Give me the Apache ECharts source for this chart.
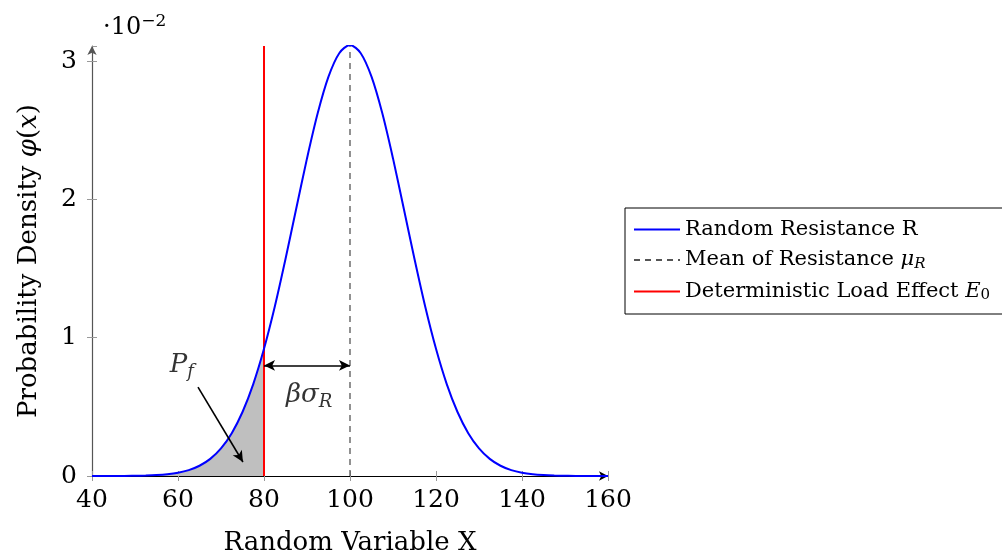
<!DOCTYPE html>
<html><head><meta charset="utf-8">
<script src="https://cdn.jsdelivr.net/npm/echarts@6/dist/echarts.min.js"></script>
<style>html,body{margin:0;padding:0;background:#fff}#c{width:1002px;height:555px}</style>
</head><body><div id="c"></div>
<script>
// x positions of curve readings
const xs = [40,42.5,45,47.5,50,52.5,55,57.5,60,62.5,65,67.5,70,72.5,75,77.5,80,82.5,85,87.5,90,92.5,95,97.5,100,
            102.5,105,107.5,110,112.5,115,117.5,120,122.5,125,127.5,130,132.5,135,137.5,140,142.5,145,147.5,150,152.5,155,157.5,160];
// density readings in units of 1e-2
const density = [0.000,0.000,0.000,0.000,0.0015,0.0032,0.0065,0.0126,0.0236,0.0427,0.0742,0.124,0.200,0.310,0.463,0.665,0.920,1.224,1.569,1.935,2.297,2.625,2.888,3.058,3.117,
            3.058,2.888,2.625,2.297,1.935,1.569,1.224,0.920,0.665,0.463,0.310,0.200,0.124,0.0742,0.0427,0.0236,0.0126,0.0065,0.0032,0.0015,0.000,0.000,0.000,0.000];
const meanR = 100;
const loadE0 = 80;
const peak = 3.117;
const yTop = 3.11;
const xTicks = [40,60,80,100,120,140,160];
const yTicks = [0,1,2,3];
const arrowY = 0.8;
const pfArrow = [[64.65,0.643],[75.1,0.101]];
const pfLabel = [60.9,0.80];
const bsLabel = [90.5,0.585];

const curve = xs.map((x,i)=>[x,density[i]]);
const shade = curve.filter(p=>p[0]<=loadE0);
const FF = 'DejaVu Serif';
const chart = echarts.init(document.getElementById('c'));
const axBase = {min:40,max:160,interval:20};
chart.setOption({
  animation:false,
  title:{text:'·10{sup|−2}',left:98,top:8,textStyle:{fontFamily:FF,fontSize:24,fontWeight:'normal',color:'#000',
     rich:{sup:{fontFamily:FF,fontSize:17,verticalAlign:'top',padding:[0,0,12,0],color:'#000'}}}},
  grid:{left:92,right:394,top:46,bottom:79,outerBoundsMode:'none',containLabel:false},
  legend:{orient:'vertical',left:625,top:208,padding:[11,20,11,8],itemGap:9.5,itemWidth:46,itemHeight:14,
    borderColor:'#000',borderWidth:1,itemStyle:{opacity:0},
    data:['Random Resistance R','Mean of Resistance','Deterministic Load Effect'],
    formatter:function(n){
      if(n==='Mean of Resistance') return 'Mean of Resistance {i|μ}{s|R}';
      if(n==='Deterministic Load Effect') return 'Deterministic Load Effect {i|E}{s0|0}';
      return n;},
    textStyle:{fontFamily:FF,fontSize:21,color:'#000',
      rich:{i:{fontFamily:FF,fontSize:21,fontStyle:'italic'},s:{fontFamily:FF,fontSize:15,fontStyle:'italic',verticalAlign:'bottom',padding:[8,0,0,0]},
            s0:{fontFamily:FF,fontSize:15,verticalAlign:'bottom',padding:[8,0,0,0]}}}},
  xAxis:[
   Object.assign({type:'value',position:'bottom',
    name:'Random Variable X',nameLocation:'middle',nameGap:54,nameTextStyle:{fontFamily:FF,fontSize:26,color:'#000'},
    axisLine:{onZero:false,lineStyle:{color:'#000',width:1.2},symbol:['none','arrow'],symbolSize:[7,9]},
    axisTick:{show:true,length:5,lineStyle:{color:'#999',width:1}},
    axisLabel:{fontFamily:FF,fontSize:25,color:'#000',margin:12},
    splitLine:{show:false}},axBase),
   Object.assign({type:'value',position:'bottom',gridIndex:0,
    axisLine:{show:false},axisTick:{show:true,inside:true,length:5,lineStyle:{color:'#999',width:1}},
    axisLabel:{show:false},splitLine:{show:false}},axBase)
  ],
  yAxis:[
   {type:'value',position:'left',min:0,max:yTop,interval:1,
    name:'Probability Density {i|φ}({i|x})',nameLocation:'middle',nameGap:50,
    nameTextStyle:{fontFamily:FF,fontSize:26,color:'#000',rich:{i:{fontFamily:FF,fontSize:26,fontStyle:'italic'}}},
    axisLine:{show:true,lineStyle:{color:'#555',width:1.2},symbol:['none','arrow'],symbolSize:[7,9]},
    axisTick:{show:true,length:5,lineStyle:{color:'#999',width:1}},
    axisLabel:{fontFamily:FF,fontSize:25,color:'#000',margin:15,showMaxLabel:false,
      formatter:v=>yTicks.includes(v)?String(v):''},
    splitLine:{show:false}},
   {type:'value',position:'left',min:0,max:yTop,interval:1,
    axisLine:{show:false},axisTick:{show:true,inside:true,length:5,lineStyle:{color:'#999',width:1}},
    axisLabel:{show:false},splitLine:{show:false}}
  ],
  series:[
   {name:'shade',type:'line',data:shade,smooth:0.3,symbol:'none',lineStyle:{width:0},areaStyle:{color:'#bfbfbf',opacity:1},z:1,silent:true},
   {name:'Deterministic Load Effect',type:'line',data:[[loadE0,0],[loadE0,yTop]],symbol:'none',lineStyle:{color:'#ff0000',width:2},color:'#ff0000',z:3},
   {name:'Mean of Resistance',type:'line',data:[[meanR,0],[meanR,peak]],symbol:'none',lineStyle:{color:'#555',width:1.3,type:[6,5]},color:'#555',z:2},
   {name:'Random Resistance R',type:'line',data:curve,smooth:0.3,symbol:'none',lineStyle:{color:'#0000ff',width:2},color:'#0000ff',z:4},
   {name:'annot',type:'scatter',symbolSize:0,z:6,silent:true,
    data:[{value:pfLabel,label:{formatter:'{i|P}{s|f}'}},{value:bsLabel,label:{formatter:'{i|βσ}{s|R}'}}],
    label:{show:true,position:'inside',color:'#000',fontFamily:FF,
      rich:{i:{fontFamily:FF,fontSize:26,fontStyle:'italic',color:'#000'},s:{fontFamily:FF,fontSize:18,fontStyle:'italic',color:'#000',verticalAlign:'bottom',padding:[14,0,0,0]}}},
    markLine:{silent:true,symbol:['none','arrow'],symbolSize:[8,11],lineStyle:{color:'#000',width:1.6,type:'solid'},label:{show:false},
      data:[
        [{coord:pfArrow[0],symbol:'none'},{coord:pfArrow[1],symbol:'arrow'}],
        [{coord:[loadE0,arrowY],symbol:'arrow'},{coord:[meanR,arrowY],symbol:'arrow'}]
      ]}}
  ]
});
</script></body></html>
